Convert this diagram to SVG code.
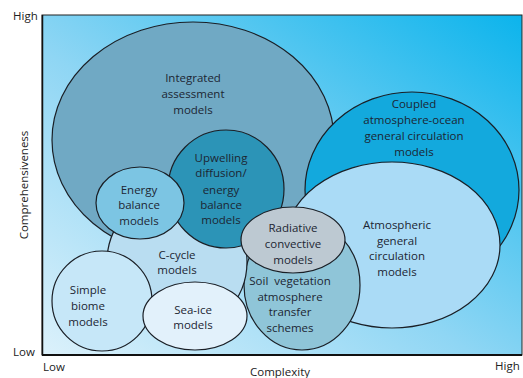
<svg xmlns="http://www.w3.org/2000/svg" width="523" height="378" viewBox="0 0 523 378">
<defs>
<linearGradient id="bg" x1="0" y1="1" x2="1" y2="0">
<stop offset="0" stop-color="#dcf1fb"/>
<stop offset="0.45" stop-color="#8fd6f4"/>
<stop offset="1" stop-color="#0cb4ec"/>
</linearGradient>
<style>
.n{stroke:#1a1f26;stroke-width:1.2}
.t{font-family:"Open Sans","Liberation Sans",sans-serif;font-size:11.5px;fill:#1c2633;text-anchor:middle}
.a{font-family:"Open Sans","Liberation Sans",sans-serif;font-size:11.5px;fill:#222}
</style>
</defs>
<rect x="0" y="0" width="523" height="378" fill="#ffffff"/>
<rect x="42" y="15" width="480" height="340" fill="url(#bg)" stroke="#222" stroke-width="1"/>
<line x1="42" y1="355" x2="522" y2="355" stroke="#111" stroke-width="2"/>
<line x1="42.5" y1="15" x2="42.5" y2="355" stroke="#111" stroke-width="1.5"/>

<g id="integrated"><ellipse class="n" cx="193" cy="140" rx="141" ry="118" fill="#70a9c4"/>
<text class="t" x="193" y="82">Integrated</text><text class="t" x="193" y="98">assessment</text><text class="t" x="193" y="114">models</text></g>

<g id="coupled"><ellipse class="n" cx="412" cy="190" rx="107" ry="98" fill="#13a9dd"/>
<text class="t" x="414" y="108">Coupled</text><text class="t" x="414" y="124">atmosphere-ocean</text><text class="t" x="414" y="140">general circulation</text><text class="t" x="414" y="156">models</text></g>

<g id="agcm"><ellipse class="n" cx="392" cy="245" rx="108" ry="83" fill="#aadbf6"/>
<text class="t" x="397" y="229">Atmospheric</text><text class="t" x="397" y="245">general</text><text class="t" x="397" y="260">circulation</text><text class="t" x="397" y="276">models</text></g>

<g id="soil"><ellipse class="n" cx="302" cy="285" rx="58" ry="65" fill="#8fc5d8"/>
<text class="t" x="290" y="285" xml:space="preserve">Soil  vegetation</text><text class="t" x="290" y="301">atmosphere</text><text class="t" x="290" y="316">transfer</text><text class="t" x="290" y="332">schemes</text></g>

<g id="ccycle"><ellipse class="n" cx="177" cy="262" rx="70" ry="70" fill="#b9ddf1"/>
<text class="t" x="177" y="259">C-cycle</text><text class="t" x="177" y="274">models</text></g>

<g id="upwelling"><ellipse class="n" cx="226" cy="189" rx="58" ry="59" fill="#2c94b7"/>
<text class="t" x="221" y="162">Upwelling</text><text class="t" x="221" y="177">diffusion/</text><text class="t" x="221" y="194">energy</text><text class="t" x="221" y="209">balance</text><text class="t" x="221" y="224">models</text></g>

<g id="radiative"><ellipse class="n" cx="293" cy="240" rx="52" ry="33" fill="#bdc9d2"/>
<text class="t" x="293" y="232">Radiative</text><text class="t" x="293" y="248">convective</text><text class="t" x="293" y="264">models</text></g>

<g id="energy"><ellipse class="n" cx="140" cy="203" rx="44" ry="36" fill="#7cc5e3"/>
<text class="t" x="139" y="194">Energy</text><text class="t" x="139" y="209">balance</text><text class="t" x="139" y="225">models</text></g>

<g id="biome"><ellipse class="n" cx="102" cy="301" rx="50" ry="50" fill="#c6e7f8"/>
<text class="t" x="88" y="294">Simple</text><text class="t" x="88" y="310">biome</text><text class="t" x="88" y="326">models</text></g>

<g id="seaice"><ellipse class="n" cx="195" cy="316" rx="52" ry="34" fill="#e2f1fb"/>
<text class="t" x="193" y="314">Sea-ice</text><text class="t" x="193" y="329">models</text></g>

<g id="connectors"></g>

<g id="axes">
<text class="a" x="13" y="20">High</text>
<text class="a" x="13" y="356">Low</text>
<text class="a" x="43" y="371">Low</text>
<text class="a" x="280" y="376" text-anchor="middle">Complexity</text>
<text class="a" x="495" y="370">High</text>
<text class="a" x="0" y="0" text-anchor="middle" transform="translate(28,185) rotate(-90)">Comprehensiveness</text>
</g>
</svg>
